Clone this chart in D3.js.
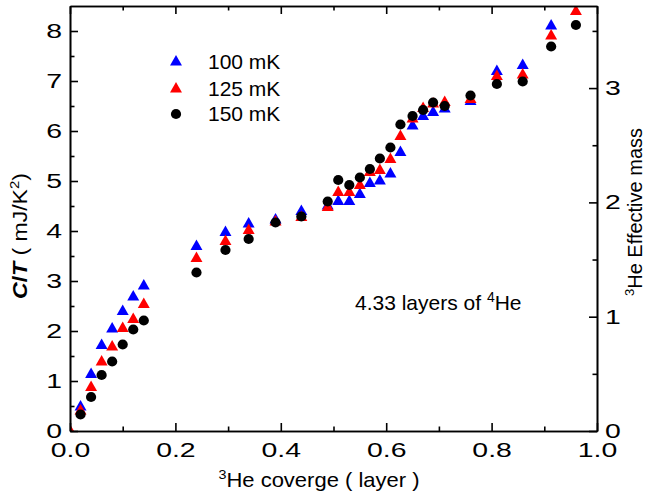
<!DOCTYPE html>
<html>
<head>
<meta charset="utf-8">
<script src="https://cdn.jsdelivr.net/npm/d3@7"></script>
<style>
  html, body { margin: 0; padding: 0; background: #fff; }
  svg { display: block; font-family: "Liberation Sans", Arial, sans-serif; }
</style>
</head>
<body>
<svg id="chart" width="645" height="501"></svg>
<script>
// 3He coverage (layers) at which C/T was measured
const coverage = [0, 0.02, 0.04, 0.06, 0.08, 0.10, 0.12, 0.14, 0.24, 0.295, 0.339, 0.39, 0.439, 0.489,
  0.509, 0.53, 0.55, 0.569, 0.588, 0.608, 0.627, 0.65, 0.67, 0.689, 0.711, 0.76, 0.81, 0.859, 0.913, 0.96];
// C/T (mJ/K^2) at each temperature; null = no point
const ct100 = [null, 0.48, 1.13, 1.71, 2.04, 2.39, 2.68, 2.90, 3.69, 3.97, 4.14, 4.22, 4.39, 4.50,
  4.59, 4.59, 4.73, 4.95, 5.00, 5.14, 5.57, 6.10, 6.29, 6.37, 6.44, 6.59, 7.19, 7.31, 8.10, null];
const ct125 = [0, 0.40, 0.87, 1.38, 1.68, 2.05, 2.23, 2.53, 3.45, 3.79, 4.01, 4.18, 4.27, 4.47,
  4.77, 4.77, 4.91, 5.17, 5.21, 5.43, 5.89, 6.24, 6.45, 6.54, 6.57, 6.63, 7.09, 7.12, 7.90, 8.39];
const ct150 = [null, 0.33, 0.68, 1.12, 1.39, 1.73, 2.03, 2.21, 3.17, 3.62, 3.84, 4.17, 4.29, 4.59,
  5.02, 4.92, 5.07, 5.24, 5.45, 5.67, 6.13, 6.30, 6.42, 6.57, 6.50, 6.71, 6.94, 6.99, 7.69, 8.12];

const seriesNames = ["100 mK", "125 mK", "150 mK"];
const seriesValues = [ct100, ct125, ct150];
const seriesColors = ["#0000ff", "#ff0000", "#000000"];
const seriesShapes = [d3.symbolTriangle, d3.symbolTriangle, d3.symbolCircle];
const seriesSizes = [62, 62, 82];

const xTicks = [0, 0.2, 0.4, 0.6, 0.8, 1.0];
const yTicks = [0, 1, 2, 3, 4, 5, 6, 7, 8];
const y2Ticks = [0, 1, 2, 3];

const svg = d3.select("#chart");
const L = 70, R = 597, T = 6, B = 431;

const x = d3.scaleLinear().domain([0, 1]).range([L, R]);
const y = d3.scaleLinear().domain([0, 8.5]).range([B, T]);
const y2 = d3.scaleLinear().domain([0, 3.718]).range([B, T]);

const tickFont = 20;
const tickWiden = 1.42;

// clip for markers
svg.append("clipPath").attr("id", "plotClip")
  .append("rect").attr("x", L).attr("y", T).attr("width", R - L).attr("height", B - T);

// data markers
const pts = svg.append("g").attr("clip-path", "url(#plotClip)");
seriesValues.forEach((vals, si) => {
  const data = coverage.map((c, i) => ({ c, v: vals[i] })).filter(d => d.v !== null);
  pts.selectAll(null).data(data).enter().append("path")
    .attr("d", d3.symbol().type(seriesShapes[si]).size(seriesSizes[si]))
    .attr("transform", d => `translate(${x(d.c)},${y(d.v)})`)
    .attr("fill", seriesColors[si]);
});

function styleAxis(g) {
  g.select(".domain").attr("stroke", "#000").attr("stroke-width", 1.6);
  g.selectAll(".tick line").attr("stroke", "#000").attr("stroke-width", 1.6);
  g.selectAll(".tick text").attr("font-size", tickFont).attr("fill", "#000")
    .attr("font-family", "'Liberation Sans', Arial, sans-serif")
    .each(function () {
      // wide tick numerals
      const t = d3.select(this);
      const x0 = +t.attr("x") || 0;
      t.attr("x", x0 / tickWiden).attr("transform", `scale(${tickWiden},1)`);
    });
}
const minorX = d3.range(0.1, 1.0, 0.2);
const minorY = d3.range(0.5, 8.5, 1);
const minorY2 = d3.range(0.5, 3.7, 1);

// bottom axis
svg.append("g").attr("transform", `translate(0,${B})`)
  .call(d3.axisBottom(x).tickValues(xTicks).tickFormat(d3.format(".1f"))
    .tickSizeInner(-8).tickSizeOuter(0).tickPadding(12))
  .call(styleAxis);
svg.append("g").attr("transform", `translate(0,${B})`)
  .call(d3.axisBottom(x).tickValues(minorX).tickFormat("").tickSizeInner(-4.5).tickSizeOuter(0))
  .call(styleAxis);
// top axis
svg.append("g").attr("transform", `translate(0,${T})`)
  .call(d3.axisTop(x).tickValues(xTicks).tickFormat("").tickSizeInner(-8).tickSizeOuter(0))
  .call(styleAxis);
svg.append("g").attr("transform", `translate(0,${T})`)
  .call(d3.axisTop(x).tickValues(minorX).tickFormat("").tickSizeInner(-4.5).tickSizeOuter(0))
  .call(styleAxis);
// left axis
svg.append("g").attr("transform", `translate(${L},0)`)
  .call(d3.axisLeft(y).tickValues(yTicks).tickFormat(d3.format("d"))
    .tickSizeInner(-8).tickSizeOuter(0).tickPadding(8))
  .call(styleAxis);
svg.append("g").attr("transform", `translate(${L},0)`)
  .call(d3.axisLeft(y).tickValues(minorY).tickFormat("").tickSizeInner(-4.5).tickSizeOuter(0))
  .call(styleAxis);
// right axis
svg.append("g").attr("transform", `translate(${R},0)`)
  .call(d3.axisRight(y2).tickValues(y2Ticks).tickFormat(d3.format("d"))
    .tickSizeInner(-8).tickSizeOuter(0).tickPadding(8))
  .call(styleAxis);
svg.append("g").attr("transform", `translate(${R},0)`)
  .call(d3.axisRight(y2).tickValues(minorY2).tickFormat("").tickSizeInner(-4.5).tickSizeOuter(0))
  .call(styleAxis);

// axis titles
const xt = svg.append("text").attr("transform", "translate(319,487) scale(1.1,1)")
  .attr("text-anchor", "middle").attr("font-size", 20);
xt.append("tspan").attr("font-size", 13).attr("dy", -8).text("3");
xt.append("tspan").attr("dy", 8).text("He coverge ( layer )");

const yt = svg.append("text")
  .attr("transform", "translate(27,236) rotate(-90) scale(1.15,1)")
  .attr("text-anchor", "middle").attr("font-size", 20);
yt.append("tspan").attr("font-weight", "bold").attr("font-style", "italic").text("C");
yt.append("tspan").attr("font-weight", "bold").text("/");
yt.append("tspan").attr("font-weight", "bold").attr("font-style", "italic").text("T");
yt.append("tspan").text(" ( mJ/K");
yt.append("tspan").attr("font-size", 13).attr("dy", -8).text("2");
yt.append("tspan").attr("dy", 8).text(")");

const y2t = svg.append("text")
  .attr("transform", "translate(642,212) rotate(-90)")
  .attr("text-anchor", "middle").attr("font-size", 20);
y2t.append("tspan").attr("font-size", 13).attr("dy", -8).text("3");
y2t.append("tspan").attr("dy", 8).text("He Effective mass");

// annotation
const ann = svg.append("text").attr("x", 355).attr("y", 310).attr("font-size", 21);
ann.append("tspan").text("4.33 layers of ");
ann.append("tspan").attr("font-size", 14).attr("dy", -8).text("4");
ann.append("tspan").attr("dy", 8).text("He");

// legend
const legY = [62, 89, 114];
const leg = svg.append("g");
seriesNames.forEach((name, i) => {
  leg.append("path")
    .attr("d", d3.symbol().type(seriesShapes[i]).size(seriesSizes[i]))
    .attr("transform", `translate(176,${legY[i]})`)
    .attr("fill", seriesColors[i]);
  leg.append("text").attr("x", 208).attr("y", legY[i] + 7)
    .attr("font-size", 21).text(name);
});
</script>
</body>
</html>
